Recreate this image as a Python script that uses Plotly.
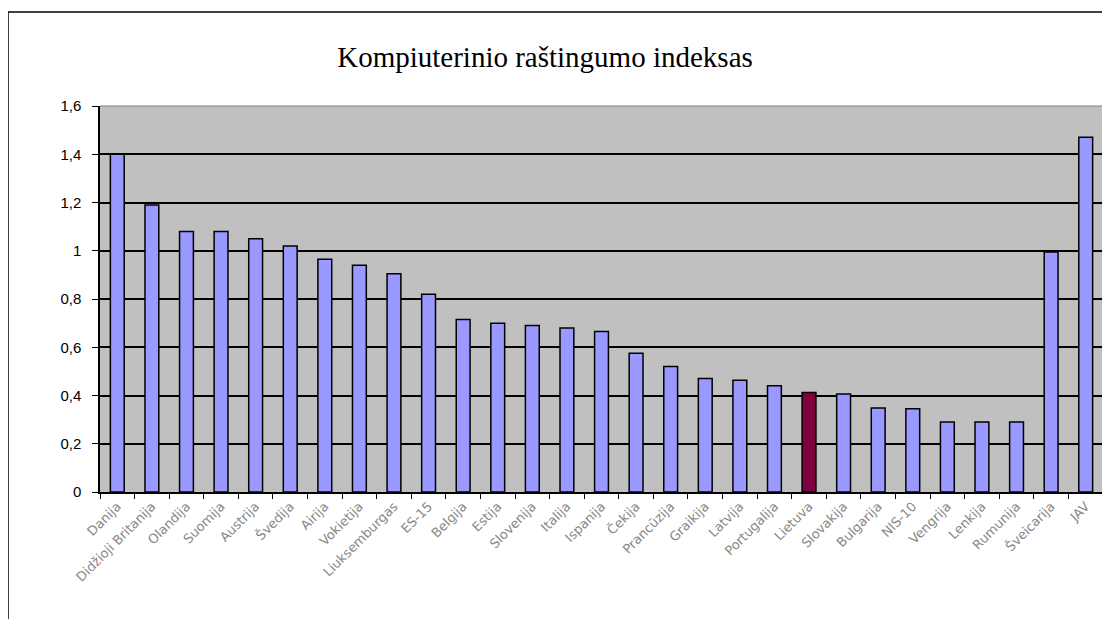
import plotly.graph_objects as go

title_text = "Kompiuterinio raštingumo indeksas"

countries = [
    "Danija", "Didžioji Britanija", "Olandija", "Suomija", "Austrija", "Švedija",
    "Airija", "Vokietija", "Liuksemburgas", "ES-15", "Belgija", "Estija",
    "Slovenija", "Italija", "Ispanija", "Čekija", "Prancūzija", "Graikija",
    "Latvija", "Portugalija", "Lietuva", "Slovakija", "Bulgarija", "NIS-10",
    "Vengrija", "Lenkija", "Rumunija", "Šveicarija", "JAV",
]
values = [
    1.40, 1.19, 1.08, 1.08, 1.05, 1.02,
    0.965, 0.94, 0.905, 0.82, 0.715, 0.70,
    0.69, 0.68, 0.665, 0.575, 0.52, 0.47,
    0.463, 0.44, 0.412, 0.406, 0.348, 0.345,
    0.29, 0.29, 0.29, 0.995, 1.47,
]
highlight = "Lietuva"

y_ticks = [0, 0.2, 0.4, 0.6, 0.8, 1.0, 1.2, 1.4, 1.6]

bar_colors = ["#800040" if c == highlight else "#9999FF" for c in countries]

fig = go.Figure(
    go.Bar(
        x=countries,
        y=values,
        width=0.4,
        marker=dict(color=bar_colors, line=dict(color="#000000", width=1.5)),
    )
)

# page body has an 8px default margin; size the figure to fill the rest of the window
OFF = 8
W, H = 1110 - OFF, 619 - OFF
L, R, T = 100 - OFF, 7, 106 - OFF
PLOT_H = 386
B = H - T - PLOT_H
pw, ph = W - L - R, PLOT_H

fig.update_layout(
    width=W,
    height=H,
    margin=dict(l=L, r=R, t=T, b=B, pad=0),
    paper_bgcolor="#FFFFFF",
    plot_bgcolor="#C0C0C0",
    separators=", ",
    showlegend=False,
    title=dict(
        text=title_text,
        font=dict(family="Liberation Serif", size=29, color="#000000"),
        x=(545 - OFF) / W,
        xanchor="center",
        xref="container",
        y=1 - (57 - OFF) / H,
        yanchor="middle",
        yref="container",
    ),
)

fig.update_yaxes(
    range=[0, 1.6],
    tickvals=y_ticks,
    showgrid=True,
    gridcolor="#000000",
    gridwidth=1.5,
    zeroline=False,
    showline=True,
    linecolor="#000000",
    linewidth=1.5,
    ticks="outside",
    ticklen=6,
    tickcolor="#000000",
    tickfont=dict(family="Liberation Sans", size=15, color="#000000"),
    ticklabelstandoff=8,
)

fig.update_xaxes(
    showgrid=False,
    showline=True,
    linecolor="#000000",
    linewidth=1.5,
    ticks="outside",
    tickson="boundaries",
    ticklen=5,
    tickcolor="#000000",
    tickangle=-45,
    tickfont=dict(family="DejaVu Sans", size=13, color="#888888"),
)

# thin gray border on top/right of plot area
fig.add_shape(type="line", xref="paper", yref="paper", x0=0, x1=1, y0=1, y1=1,
              line=dict(color="#808080", width=1), layer="above")
fig.add_shape(type="line", xref="paper", yref="paper", x0=1, x1=1, y0=0, y1=1,
              line=dict(color="#808080", width=1), layer="above")

# outer chart frame (screen x 8..1108, top at y 12, bottom off-page)
fig.add_shape(
    type="rect", xref="paper", yref="paper",
    x0=(8 - 100) / pw, x1=(1108 - 100) / pw,
    y0=-(680 - 492) / ph, y1=(492 - 12) / ph,
    line=dict(color="#000000", width=1.5), fillcolor="rgba(0,0,0,0)", layer="below",
)

fig.write_html("out.html")
